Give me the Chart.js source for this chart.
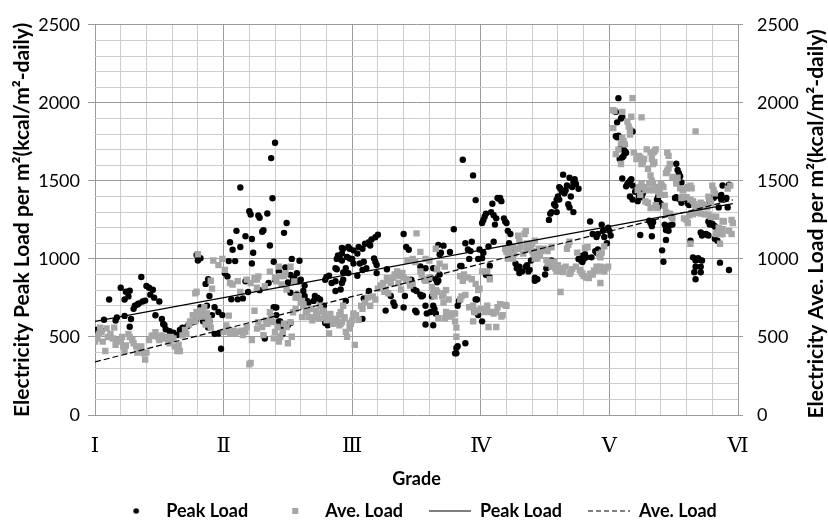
<!DOCTYPE html>
<html><head><meta charset="utf-8">
<script src="https://cdn.jsdelivr.net/npm/chart.js@4.4.1/dist/chart.umd.min.js"></script>
<style>html,body{margin:0;padding:0;background:#fff;}canvas{display:block;}</style>
</head><body>
<canvas id="c" width="828" height="522"></canvas>
<script>
const gradeLabels = ['Ⅰ','Ⅱ','Ⅲ','Ⅳ','Ⅴ','Ⅵ'];
const seriesNames = ['Peak Load','Ave. Load','Peak Load','Ave. Load'];
const xTitle = 'Grade';
const yTitleLeft = 'Electricity Peak Load per m²(kcal/m²-daily)';
const yTitleRight = 'Electricity Ave. Load per m²(kcal/m²-daily)';

const peakPoints = [
[0.01,545],[0.03,550],[0.05,540],[0.07,610],[0.11,740],[0.16,605],[0.17,625],[0.20,815],[0.23,635],[0.23,740],[0.24,790],[0.26,760],[0.27,796],[0.28,615],[0.27,565],[0.30,680],[0.31,700],[0.33,708],[0.34,714],[0.36,884],[0.37,727],[0.39,733],[0.40,827],[0.42,815],[0.43,771],[0.45,802],[0.46,752],[0.47,639],[0.50,727],[0.52,615],[0.53,583],[0.54,577],[0.55,549],[0.58,537],[0.61,528],[0.64,512],[0.66,545],[0.68,560],[0.70,555],[0.72,570],[0.74,590],[0.76,595],[0.78,600],[0.79,620],[0.81,650],[0.82,660],[0.79,1025],[0.80,990],[0.82,1005],[0.86,840],[0.88,870],[0.89,762],[0.87,700],[0.84,600],[0.88,560],[0.91,640],[0.93,520],[0.98,424],[0.82,690],[0.86,620],[0.89,600],[0.93,690],[0.96,660],[0.99,640],[0.96,522],
[1.05,1107],[1.07,1059],[1.04,986],[1.09,986],[1.10,1180],[1.13,1076],[1.17,1145],[1.20,1305],[1.21,1285],[1.22,1128],[1.23,1040],[1.13,1458],[1.27,1278],[1.28,1264],[1.30,1174],[1.31,1184],[1.34,1291],[1.36,1086],[1.37,1646],[1.38,1389],[1.40,1744],[1.39,982],[1.47,1167],[1.49,1230],[1.53,1000],
[1.01,908],[1.03,888],[1.06,741],[1.11,741],[1.15,747],[1.17,857],[1.19,788],[1.22,971],[1.25,871],[1.28,800],[1.32,490],[1.35,846],[1.39,690],[1.41,640],[1.43,600],[1.45,560],[1.46,520],[1.26,808],[1.40,867],[1.41,689],[1.44,600],[1.45,585],[1.52,590],[1.50,575],
[1.43,919],[1.48,946],[1.50,850],[1.52,898],[1.54,873],[1.58,857],[1.60,867],[1.63,829],[1.62,794],[1.52,783],[1.57,773],[1.61,731],[1.63,762],[1.65,731],[1.66,721],[1.71,762],[1.73,752],[1.70,731],[1.55,877],[1.57,908],[1.59,988],[1.75,740],[1.78,700],[1.75,704],[1.79,590],[1.81,575],[1.83,600],
[1.80,884],[1.79,867],[1.82,892],[1.84,846],[1.87,794],[1.88,934],[1.89,1017],[1.92,1070],[1.95,940],[1.93,867],[1.88,1000],[1.90,1010],[1.92,990],[2.00,1000],
[2.20,1155],[2.18,1139],[2.15,1124],[2.13,1107],[2.14,1086],[2.10,1097],[2.08,1065],[2.05,1076],[2.04,1034],[2.01,1055],[1.98,1065],[1.97,1076],[1.93,1065],[1.92,1034],[1.89,1023],[1.96,1013],[1.98,1003],[2.01,971],[2.06,971],[2.09,982],[2.08,929],[2.11,940],[2.17,1003],[2.18,982],[2.19,961],[2.27,934],[2.19,909],[2.04,892],[1.97,909],[1.93,913],[1.87,940],[1.87,857],[1.92,846],[1.91,804],[1.95,731],[2.09,746],[2.13,794],[2.30,762],[2.32,721],[2.33,700],[2.40,1160],[2.42,1076],[2.44,1059],[2.46,867],[2.45,835],[2.48,804],[2.50,794],[2.49,669],[2.50,658],[2.41,762],[2.26,669],[2.40,689],[2.08,616],
[2.86,1635],[2.94,1535],[2.96,1377],[3.13,1390],[3.14,1385],[3.09,1353],[3.08,1300],[3.10,1280],[3.12,1260],[3.04,1290],[3.03,1270],[3.02,1250],[3.01,1230],[3.11,1220],[2.79,1190],[2.67,1090],[2.68,1030],[2.71,1085],[2.69,1040],[2.88,1100],[2.93,1110],[2.90,1060],[2.92,1050],[2.91,1000],[2.99,1060],[3.02,1040],[3.06,1080],[3.10,1110],[2.76,1045],[2.84,955],[2.85,955],[3.07,957],[2.53,951],[2.57,940],[2.60,870],[2.61,880],[2.63,940],[2.65,870],[2.66,850],[2.67,860],[2.68,900],[2.53,770],[2.54,760],[2.55,765],[2.57,700],[2.58,650],[2.61,660],[2.62,760],[2.63,700],[2.64,680],[2.65,650],[2.57,580],[2.63,575],[2.83,730],[2.82,700],[2.96,740],[2.97,740],[2.95,660],[2.98,640],[3.01,600],[2.80,395],[2.81,395],[2.81,430],[2.82,440],[2.88,460],[3.04,898],[3.07,881],[2.98,1000],[3.01,1005],
[3.15,1390],[3.16,1370],[3.18,1260],[3.19,1240],[3.20,1230],[3.21,1180],[3.23,1160],[3.22,1100],[3.24,1070],[3.27,970],[3.30,950],[3.32,920],[3.30,910],[3.28,940],[3.36,960],[3.39,990],[3.38,930],[3.37,920],[3.35,950],[3.42,880],[3.44,870],[3.42,860],[3.50,900],[3.51,940],[3.53,950],[3.55,990],
[3.53,1250],[3.54,1290],[3.55,1300],[3.57,1350],[3.58,1340],[3.59,1380],[3.60,1400],[3.61,1460],[3.62,1450],[3.63,1430],[3.64,1540],[3.65,1420],[3.66,1440],[3.67,1470],[3.68,1350],[3.69,1520],[3.70,1400],[3.71,1460],[3.72,1490],[3.73,1510],[3.74,1480],[3.76,1450],[3.72,1300],[3.69,1330],[3.61,1380],[3.59,1300],
[3.85,1240],[3.87,1160],[3.90,1140],[3.91,1160],[3.94,1220],[3.95,1180],[3.96,1140],[3.76,1000],[3.79,1020],[3.80,1000],[3.81,1030],[3.82,1010],[3.79,980],[3.78,990],[3.86,1010],[3.89,1050],[3.90,1040],[3.91,1060],[3.99,1200],[4.00,1180],[4.01,1150],[3.98,1100],
[4.07,2030],[4.04,1947],[4.05,1942],[4.06,1875],[4.09,1900],[4.10,1911],[4.05,1786],[4.06,1780],[4.07,1790],[4.09,1715],[4.11,1700],[4.12,1690],[4.13,1680],[4.11,1660],[4.10,1650],[4.08,1640],[4.18,1817],
[4.10,1515],[4.13,1465],[4.14,1480],[4.15,1490],[4.16,1500],[4.17,1510],[4.18,1470],[4.16,1400],[4.18,1380],[4.20,1430],[4.21,1440],[4.23,1400],[4.25,1395],[4.26,1420],[4.27,1450],[4.22,1370],
[4.24,1153],[4.33,1145],[4.31,1245],[4.32,1230],[4.33,1240],[4.34,1235],[4.33,1210],[4.37,1380],[4.38,1370],[4.39,1360],[4.40,1350],[4.38,1400],[4.38,1335],
[4.43,1220],[4.44,1200],[4.45,1190],[4.46,1210],[4.47,1215],[4.49,1220],[4.46,1180],[4.44,1185],[4.44,1122],[4.41,1055],[4.42,982],
[4.51,1390],[4.52,1395],[4.54,1385],[4.55,1385],[4.56,1360],[4.57,1385],[4.58,1390],[4.59,1385],[4.61,1355],[4.62,1345],[4.52,1610],[4.53,1570],[4.55,1530],[4.56,1490],[4.54,1550],
[4.63,1117],[4.65,1010],[4.67,990],[4.68,1000],[4.69,1005],[4.70,995],[4.72,990],[4.67,950],[4.71,950],[4.66,915],[4.71,915],[4.67,870],
[4.71,1170],[4.72,1150],[4.73,1160],[4.75,1160],[4.76,1155],[4.77,1150],[4.77,1240],[4.78,1220],[4.80,1225],[4.81,1215],[4.82,1210],[4.83,1200],[4.82,1130],
[4.82,1400],[4.81,1390],[4.79,1380],[4.78,1370],[4.79,1390],[4.86,1400],[4.87,1410],[4.88,1470],[4.87,1380],[4.85,1330],[4.86,976],[4.93,929],[4.84,1117],[4.93,1475],[4.91,1390],[4.92,1330]
];

const avePoints = [
[0.00,470],[0.02,490],[0.03,520],[0.04,560],[0.05,530],[0.06,470],[0.08,410],[0.09,555],[0.10,500],[0.12,520],[0.14,490],[0.15,560],[0.16,450],[0.17,480],[0.18,480],[0.20,470],[0.21,500],[0.22,440],[0.23,410],[0.24,445],[0.26,520],[0.27,500],[0.29,480],[0.30,460],[0.32,440],[0.33,400],[0.35,415],[0.36,440],[0.38,395],[0.39,355],[0.40,400],[0.42,480],[0.44,505],[0.45,510],[0.47,530],[0.49,500],[0.50,480],[0.52,510],[0.54,490],[0.55,500],[0.57,470],[0.58,460],[0.59,500],[0.61,490],[0.62,440],[0.64,410],[0.65,450],
[0.66,410],[0.68,510],[0.70,545],[0.71,520],[0.73,580],[0.74,600],[0.76,640],[0.78,600],[0.79,660],[0.80,630],[0.82,670],[0.83,630],[0.84,640],[0.85,690],[0.86,580],[0.87,650],[0.88,620],[0.89,595],[0.90,560],
[0.80,1030],[0.92,990],[0.96,960],[0.99,1000],[1.01,930],[0.79,790],[0.78,780],[0.90,860],[0.91,810],[1.05,846],[1.11,858],
[1.00,533],[1.02,574],[1.03,553],[1.04,637],[1.05,522],[1.07,533],[1.08,540],[1.09,522],[1.11,533],[1.13,533],[1.14,540],[1.15,512],[1.17,533],[1.18,564],[1.20,324],[1.21,334],[1.22,480],[1.24,668],[1.26,553],[1.27,595],[1.30,564],[1.31,512],[1.33,606],[1.34,585],[1.36,658],[1.37,627],[1.38,595],[1.39,491],[1.40,533],[1.42,564],[1.43,470],[1.44,501],[1.46,533],[1.47,585],[1.49,564],[1.50,460],[1.52,595],[1.53,501],[1.54,658],[1.56,679],[1.57,762],[1.58,752],[1.60,721],[1.61,627],[1.62,700],[1.64,658],[1.65,668],[1.66,627],[1.68,679],[1.69,606],[1.70,627],[1.72,668],[1.73,648],[1.74,616],[1.75,700],[1.77,668],[1.78,658],[1.79,627],[1.80,606],[1.82,522],[1.83,648],[1.84,616],[1.85,585],[1.87,606],[1.88,616],[1.90,575],[1.91,585],[1.92,595],[1.94,627],[1.95,533],[1.96,501],[1.98,553],[1.99,585],[2.00,606],[2.01,637],[2.02,449],
[1.07,836],[1.13,788],[1.18,867],[1.21,846],[1.24,877],[1.26,867],[1.27,888],[1.26,815],[1.32,825],[1.36,919],[1.40,880],[1.41,856],[1.43,951],[1.44,890],[1.45,836],[1.47,890],[1.48,909],[1.49,804],[1.52,950],[1.55,856],[1.56,752],[1.61,731],[1.62,710],
[1.87,600],[1.90,640],[1.91,660],[1.94,620],[1.98,590],[2.01,650],[2.03,640],[2.05,610],[2.07,700],[1.93,700],[2.08,680],[2.10,720],[2.12,752],[2.14,700],[2.16,760],[2.18,740],[2.20,810],[2.22,830],[2.24,846],[2.25,790],[2.27,877],[2.28,860],[2.30,846],[2.32,880],[2.33,900],[2.35,920],[2.37,890],[2.39,910],[2.40,880],[2.42,870],[2.44,860],[2.45,830],[2.47,840],[2.43,990],[2.47,1000],[2.49,980],[2.50,1164],[2.36,846],[2.38,804],[2.26,804],[2.28,780],
[2.53,1045],[2.57,1000],[2.60,990],[2.65,1065],[2.66,934],[2.72,951],[2.68,970],[2.53,920],[2.54,900],[2.56,870],[2.57,860],[2.60,880],[2.62,820],[2.65,800],[2.66,790],[2.70,760],[2.71,780],[2.73,800],[2.75,740],[2.63,780],[2.64,760],[2.84,890],[2.86,860],[2.87,900],[2.90,880],[2.93,870],[2.96,840],[3.01,920],[3.05,920],[3.07,870],[2.99,810],[2.98,800],[2.88,770],[2.85,760],[2.84,740],
[2.71,720],[2.73,660],[2.74,650],[2.77,640],[2.78,650],[2.80,650],[2.76,630],[2.72,620],[2.67,620],[2.80,600],[2.81,560],[2.81,501],[2.91,690],[2.94,700],[2.95,660],[2.97,670],[3.00,680],[3.03,660],[3.04,670],[3.05,700],[3.08,660],[3.10,650],[3.12,660],[3.13,690],[3.15,710],[3.16,630],[3.17,640],[3.19,705],[3.20,700],[3.06,564],[3.12,564],[2.94,600],[3.19,1065],[3.20,1055],[3.21,1060],
[3.35,1180],[3.34,1160],[3.29,1149],[3.30,1117],[3.25,1076],[3.26,1034],[3.22,1065],[3.23,1034],[3.20,1045],[3.21,1003],[3.25,1003],[3.29,1065],[3.31,1076],[3.33,1034],[3.36,1065],[3.38,1076],[3.39,1076],[3.40,1050],[3.41,1034],[3.42,1003],[3.43,1034],[3.44,1003],[3.45,1065],[3.46,1020],[3.47,1050],[3.49,1065],[3.51,1060],[3.52,1050],[3.55,1075],[3.42,1117],[3.40,1100],[3.38,1095],[3.36,1100],
[3.51,992],[3.52,970],[3.53,980],[3.55,951],[3.57,980],[3.58,940],[3.59,920],[3.60,960],[3.62,940],[3.63,920],[3.64,915],[3.66,951],[3.69,905],[3.70,915],[3.71,935],[3.74,951],[3.77,930],[3.78,915],[3.79,905],[3.80,890],[3.82,880],[3.83,890],[3.84,877],[3.85,905],[3.87,900],[3.88,925],[3.90,951],[3.91,925],[3.93,951],[3.94,945],[3.95,930],[3.96,920],[3.97,940],[3.99,951],[3.62,788],[3.93,846],[3.67,1065],[3.68,1090],[3.69,1110],[3.75,1040],[3.81,1070],[3.83,1075],[3.92,1030],[3.93,1010],[3.94,1040],[3.96,1080],
[4.18,2030],[4.03,1953],[4.04,1947],[4.10,1942],[4.14,1880],[4.15,1848],[4.16,1828],[4.17,1911],[4.25,1907],[4.16,1796],[4.10,1775],[4.11,1754],[4.12,1734],[4.09,1740],[4.07,1700],[4.05,1671],[4.09,1608],[4.03,1838],
[4.19,1681],[4.21,1640],[4.23,1660],[4.24,1650],[4.25,1608],[4.26,1620],[4.27,1640],[4.29,1702],[4.32,1681],[4.33,1640],[4.34,1681],[4.35,1690],[4.36,1702],[4.34,1608],[4.35,1620],[4.30,1577],[4.32,1535],[4.33,1500],[4.34,1483],[4.31,1483],
[4.40,1483],[4.41,1470],[4.42,1460],[4.39,1441],[4.38,1430],[4.37,1460],[4.43,1410],[4.39,1410],[4.37,1326],[4.36,1345],[4.34,1440],[4.31,1441],[4.28,1441],[4.27,1460],[4.25,1480],[4.23,1460],[4.22,1441],[4.24,1410],[4.28,1368],[4.30,1360],[4.32,1326],
[4.45,1681],[4.46,1660],[4.47,1608],[4.45,1566],[4.44,1550],[4.46,1580],[4.49,1525],[4.53,1520],[4.52,1483],[4.55,1452],[4.57,1441],[4.60,1452],[4.61,1460],[4.63,1470],[4.64,1452],[4.57,1399],[4.56,1390],[4.60,1395],[4.63,1380],[4.65,1370],[4.66,1350],[4.67,1330],[4.69,1320],[4.70,1305],[4.71,1360],[4.72,1350],[4.73,1345],[4.74,1335],[4.76,1330],[4.77,1399],[4.78,1380],[4.79,1360],[4.80,1470],[4.81,1440],[4.82,1420],
[4.88,1243],[4.89,1240],[4.88,1190],[4.86,1170],[4.87,1160],[4.88,1160],[4.84,1170],[4.83,1159],[4.85,1200],[4.83,1270],[4.79,1270],[4.77,1285],[4.74,1285],[4.71,1290],[4.69,1295],[4.65,1285],[4.62,1280],[4.60,1250],[4.58,1260],[4.61,1230],[4.63,1097],[4.86,1097],[4.49,1260],[4.48,1275],[4.47,1290],[4.44,1300],[4.43,1340],[4.67,1817],
[4.92,1450],[4.94,1470],[4.95,1250],[4.96,1230],[4.93,1180],[4.95,1160]
];

const trendX = [0, 4.96];
const peakTrendY = [600, 1354];
const aveTrendY = [340, 1378];

function toXY(arr){ return arr.map(p => ({x:p[0], y:p[1]})); }
function trend(ys){ return trendX.map((x,i) => ({x:x, y:ys[i]})); }

function mk(draw){ const c=document.createElement('canvas'); c.width=8; c.height=8; draw(c.getContext('2d')); return c; }
const dotImg = mk(g=>{ g.fillStyle='#000'; g.beginPath(); g.arc(4,4,2.8,0,Math.PI*2); g.fill(); });
const sqImg = mk(g=>{ g.fillStyle='#a6a6a6'; g.fillRect(1,1,6,6); });

Chart.defaults.font.family = "Lato, 'DejaVu Sans', sans-serif";
Chart.defaults.color = '#000';

const isMajorY = v => Math.abs(v % 500) < 1e-6;
const isMajorX = v => Math.abs(v - Math.round(v)) < 1e-6;
const titleFont = "bold 21px Lato, 'DejaVu Sans', sans-serif";

const rightTitle = {
  id: 'rightTitle',
  afterDraw(chart){
    const s = chart.scales.y2, ctx = chart.ctx, a = chart.chartArea;
    ctx.save();
    ctx.translate(s.right - 12, (a.top + a.bottom)/2 + 4);
    ctx.rotate(-Math.PI/2);
    ctx.font = titleFont;
    ctx.fillStyle = '#000'; ctx.textAlign = 'center'; ctx.textBaseline = 'middle';
    ctx.fillText(s.options.title.text, 0, 0);
    ctx.restore();
  }
};

const legendShift = {
  id: 'legendShift',
  afterLayout(chart){ if (chart.legend){ chart.legend.left += 2; chart.legend.right += 2; } }
};

new Chart(document.getElementById('c'), {
  type: 'scatter',
  data: { datasets: [
    { label: seriesNames[0], data: toXY(peakPoints), pointStyle:'circle', pointRadius:3.2, pointHoverRadius:3.2, backgroundColor:'#000', borderWidth:0, order:3 },
    { label: seriesNames[1], data: toXY(avePoints), pointStyle:'rect', pointRadius:4.5, pointHoverRadius:4.5, backgroundColor:'#a6a6a6', borderWidth:0, order:2 },
    { type:'line', label: seriesNames[2], data: trend(peakTrendY), showLine:true, borderColor:'#000', borderWidth:1.2, pointRadius:0, fill:false, order:1 },
    { type:'line', label: seriesNames[3], data: trend(aveTrendY), showLine:true, borderColor:'#000', borderWidth:1.2, borderDash:[6,3], pointRadius:0, fill:false, order:0 }
  ]},
  options: {
    responsive:false, animation:false, devicePixelRatio:1,
    layout:{ padding:{ top:16, bottom:-8, left:0, right:0 } },
    plugins:{
      tooltip:{enabled:false},
      legend:{
        position:'bottom',
        labels:{
          usePointStyle:true, pointStyleWidth:42, padding:26, color:'#000',
          font:{ size:18, weight:'bold' },
          generateLabels: () => [
            { text:seriesNames[0], pointStyle:dotImg, fillStyle:'#000', strokeStyle:'#000', lineWidth:0, datasetIndex:0, hidden:false, fontColor:'#000' },
            { text:seriesNames[1], pointStyle:sqImg, fillStyle:'#a6a6a6', strokeStyle:'#a6a6a6', lineWidth:0, datasetIndex:1, hidden:false, fontColor:'#000' },
            { text:seriesNames[2], pointStyle:'line', fillStyle:'#000', strokeStyle:'#000', lineWidth:1.2, lineDash:[], datasetIndex:2, hidden:false, fontColor:'#000' },
            { text:seriesNames[3], pointStyle:'line', fillStyle:'#000', strokeStyle:'#000', lineWidth:1.2, lineDash:[5,3], datasetIndex:3, hidden:false, fontColor:'#000' }
          ]
        }
      }
    },
    scales:{
      x:{
        type:'linear', min:0, max:5,
        ticks:{ stepSize:0.2, autoSkip:false, maxRotation:0, padding:19, color:'#000',
          font:{ family:"'DejaVu Serif', 'Liberation Serif', serif", size:21 },
          callback: v => isMajorX(v) ? gradeLabels[Math.round(v)] : '' },
        grid:{ color: c => (c.tick && isMajorX(c.tick.value)) ? '#9a9a9a' : '#cdcdcd', lineWidth:1, drawTicks:false },
        border:{ display:false },
        title:{ display:true, text:xTitle, color:'#000', font:{ size:18, weight:'bold' }, padding:{ top:0, bottom:-14 } },
        afterFit: s => { s.height = 61; }
      },
      y:{
        type:'linear', position:'left', min:0, max:2500,
        ticks:{ stepSize:100, autoSkip:false, padding:8, color:'#000', font:{ size:18 },
          callback: v => isMajorY(v) ? String(v) : '' },
        grid:{ color: c => (c.tick && isMajorY(c.tick.value)) ? '#9a9a9a' : '#cdcdcd', lineWidth:1, tickLength:7,
          tickColor: c => (c.tick && isMajorY(c.tick.value)) ? '#9a9a9a' : 'rgba(0,0,0,0)' },
        border:{ display:false },
        title:{ display:true, text:yTitleLeft, color:'#000', font:{ size:21, weight:'bold' }, padding:{ top:10, bottom:0 } },
        afterFit: s => { s.width = 95; }
      },
      y2:{
        type:'linear', position:'right', min:0, max:2500,
        ticks:{ stepSize:100, autoSkip:false, padding:14, color:'#000', font:{ size:18 },
          callback: v => isMajorY(v) ? String(v) : '' },
        grid:{ drawOnChartArea:false, tickLength:5,
          tickColor: c => (c.tick && isMajorY(c.tick.value)) ? '#9a9a9a' : 'rgba(0,0,0,0)' },
        border:{ display:false },
        title:{ display:false, text:yTitleRight },
        afterFit: s => { s.width = 90; }
      }
    }
  },
  plugins:[rightTitle, legendShift]
});
</script>
</body></html>
